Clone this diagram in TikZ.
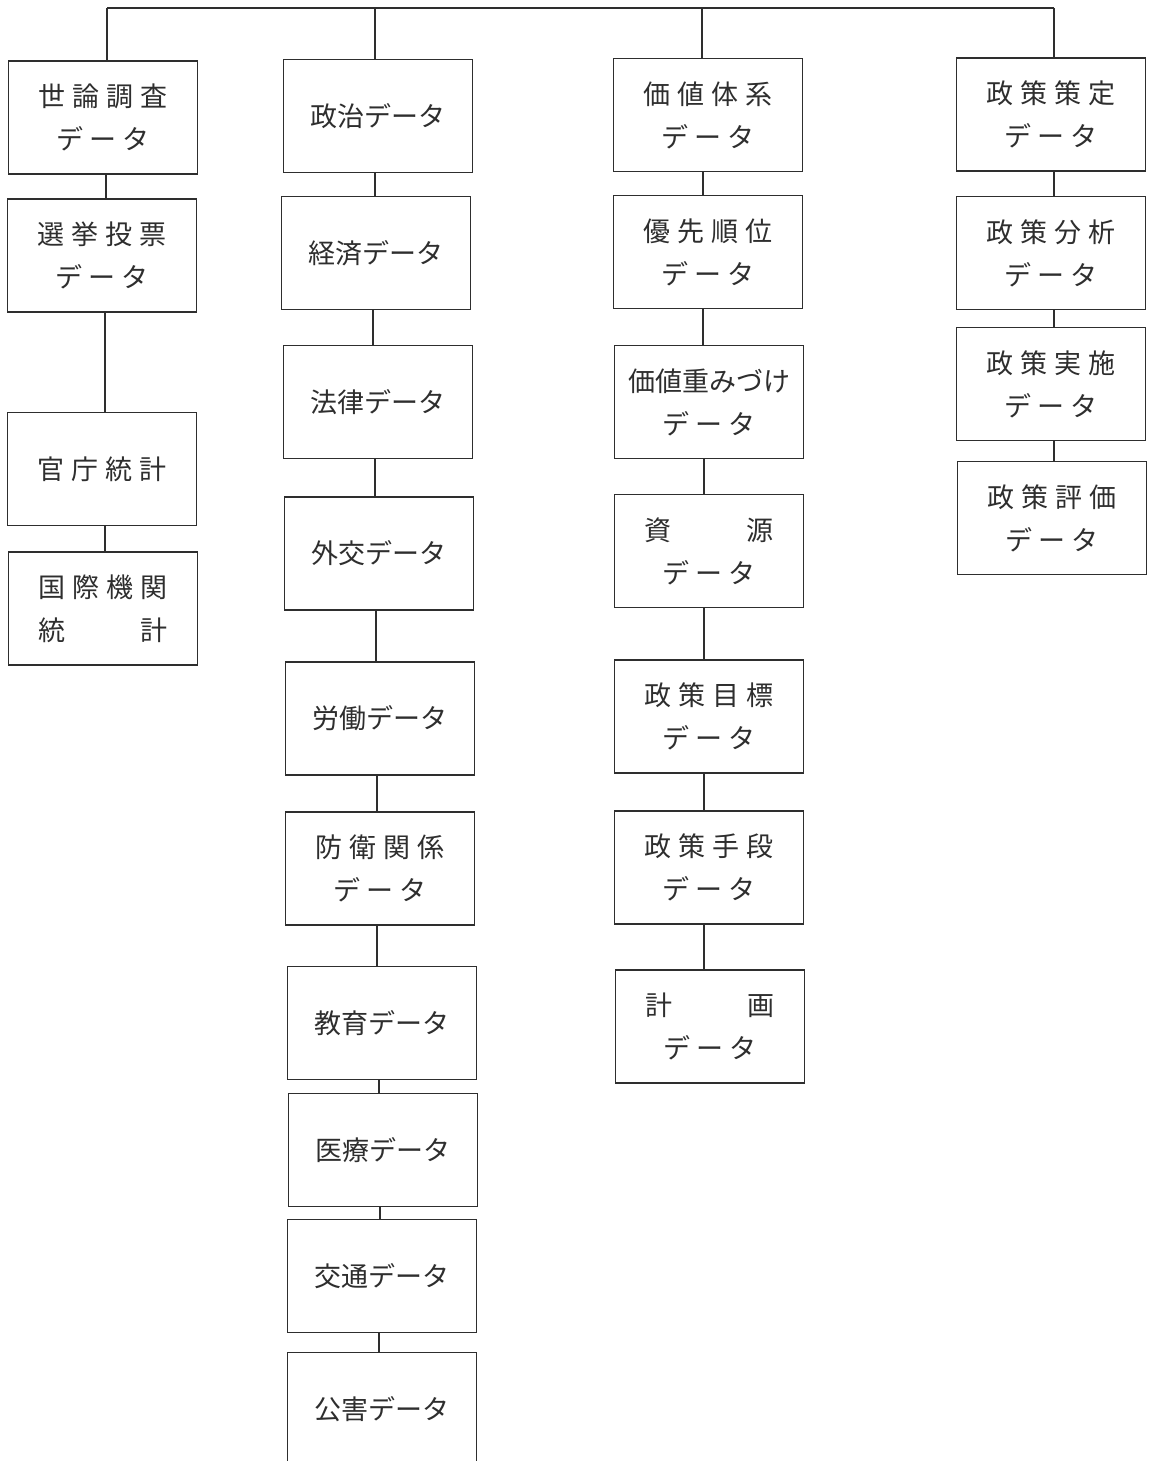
\documentclass[tikz,border=0pt]{standalone}
\usepackage{fontspec}
\setmainfont{Noto Sans CJK JP}
\definecolor{ink}{gray}{0.18}
\newcommand\kgap{\hspace{7pt}}
\newcommand\dgap{\hspace{6pt}}
\newcommand\dataline{デ\dgap ー\dgap タ}
\newcommand\widepair[2]{\makebox[129pt]{#1\hfill#2}}
\tikzset{
  box/.style={draw=ink, line width=1.1pt, minimum width=189pt, minimum height=113pt,
    inner sep=0pt, align=center, text=ink, font=\fontsize{27}{43}\selectfont},
  link/.style={draw=ink, line width=1.1pt}
}
\begin{document}
\begin{tikzpicture}[x=1pt,y=1pt]
\useasboundingbox (0,0) rectangle (1150,-1461);
\fill[white] (0,0) rectangle (1150,-1461);
% column 1
\node[box] (A1) at (103,-117.5) {世\kgap 論\kgap 調\kgap 査\\\dataline};
\node[box] (A2) at (102,-255.5) {選\kgap 挙\kgap 投\kgap 票\\\dataline};
\node[box] (A3) at (102,-469) {官\kgap 庁\kgap 統\kgap 計};
\node[box] (A4) at (103,-608.5) {国\kgap 際\kgap 機\kgap 関\\\widepair{統}{計}};
% column 2
\node[box] (B1) at (378,-116) {政治データ};
\node[box] (B2) at (376,-253) {経済データ};
\node[box] (B3) at (378,-402) {法律データ};
\node[box] (B4) at (379,-553.5) {外交データ};
\node[box] (B5) at (380,-718.5) {労働データ};
\node[box] (B6) at (380,-868.5) {防\kgap 衛\kgap 関\kgap 係\\\dataline};
\node[box] (B7) at (382,-1023) {教育データ};
\node[box] (B8) at (383,-1150) {医療データ};
\node[box] (B9) at (382,-1276) {交通データ};
\node[box] (B10) at (382,-1409) {公害データ};
% column 3
\node[box] (C1) at (708,-115) {価\kgap 値\kgap 体\kgap 系\\\dataline};
\node[box] (C2) at (708,-252) {優\kgap 先\kgap 順\kgap 位\\\dataline};
\node[box] (C3) at (709,-402) {価値重みづけ\\\dataline};
\node[box] (C4) at (709,-551) {\widepair{資}{源}\\\dataline};
\node[box] (C5) at (709,-716.5) {政\kgap 策\kgap 目\kgap 標\\\dataline};
\node[box] (C6) at (709,-867.5) {政\kgap 策\kgap 手\kgap 段\\\dataline};
\node[box] (C7) at (710,-1026.5) {\widepair{計}{画}\\\dataline};
% column 4
\node[box] (D1) at (1051,-114.5) {政\kgap 策\kgap 策\kgap 定\\\dataline};
\node[box] (D2) at (1051,-253) {政\kgap 策\kgap 分\kgap 析\\\dataline};
\node[box] (D3) at (1051,-384) {政\kgap 策\kgap 実\kgap 施\\\dataline};
\node[box] (D4) at (1052,-518) {政\kgap 策\kgap 評\kgap 価\\\dataline};
% top bus
\coordinate (T1) at (107,-8);
\coordinate (T2) at (375,-8);
\coordinate (T3) at (702,-8);
\coordinate (T4) at (1054,-8);
\draw[link] (T1) -- (T4);
\draw[link] (T1) -- (T1 |- A1.north);
\draw[link] (T2) -- (T2 |- B1.north);
\draw[link] (T3) -- (T3 |- C1.north);
\draw[link] (T4) -- (T4 |- D1.north);
% column 1 chain
\foreach \a/\b in {A1/A2,A2/A3,A3/A4}
  \draw[link] ([xshift=3pt]\a.south) -- ([xshift=3pt]\a.south |- \b.north);
% column 2 chain
\foreach \a/\b in {B1/B2,B2/B3,B3/B4,B4/B5,B5/B6,B6/B7,B7/B8,B8/B9,B9/B10}
  \draw[link] ([xshift=-3pt]\a.south) -- ([xshift=-3pt]\a.south |- \b.north);
% column 3 chain
\foreach \a/\b in {C1/C2,C2/C3,C3/C4,C4/C5,C5/C6,C6/C7}
  \draw[link] ([xshift=-5pt]\a.south) -- ([xshift=-5pt]\a.south |- \b.north);
% column 4 chain
\foreach \a/\b in {D1/D2,D2/D3,D3/D4}
  \draw[link] ([xshift=3pt]\a.south) -- ([xshift=3pt]\a.south |- \b.north);
\end{tikzpicture}
\end{document}
